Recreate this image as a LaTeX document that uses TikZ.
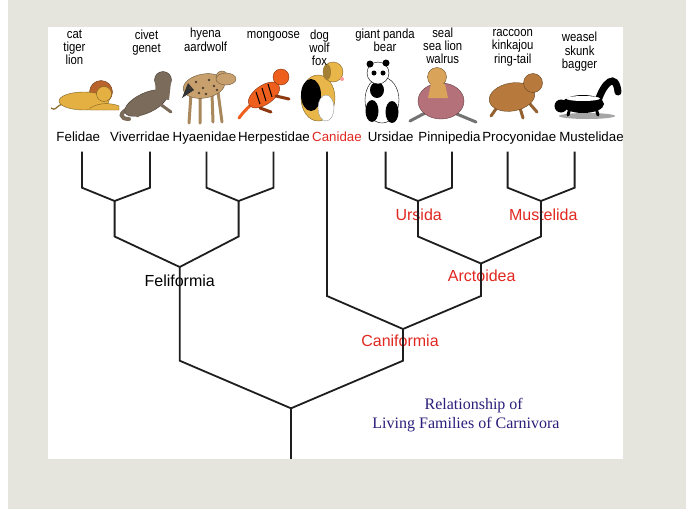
\documentclass[tikz,border=0pt]{standalone}
\usepackage{fontspec}
\setmainfont{Liberation Sans}
\newfontfamily\serifface{Liberation Serif}
\newfontfamily\namesface[FakeStretch=0.86]{Liberation Sans}
\usepackage{xcolor}
\usepackage{tikz}
\definecolor{pageGrey}{RGB}{230, 229, 221}
\definecolor{branchGrey}{RGB}{30, 30, 30}
\definecolor{cladeRed}{RGB}{224, 40, 32}
\definecolor{titleNavy}{RGB}{43, 30, 122}
\definecolor{lionGold}{RGB}{228, 176, 66}
\definecolor{lionMane}{RGB}{184, 100, 44}
\definecolor{civetBrown}{RGB}{122, 107, 91}
\definecolor{hyenaTan}{RGB}{200, 160, 110}
\definecolor{mongooseOrange}{RGB}{238, 95, 30}
\definecolor{dogYellow}{RGB}{233, 182, 73}
\definecolor{sealMauve}{RGB}{180, 113, 121}
\definecolor{sealHead}{RGB}{217, 164, 90}
\definecolor{raccoonBrown}{RGB}{184, 122, 60}
\newcommand{\beast}[6]{
  \filldraw[fill=#5, draw=#5!55!black, thin, rotate around={#6:#1}] #1 ellipse [#2];
  \filldraw[fill=#5, draw=#5!55!black, thin] #3 circle (#4);
}
\tikzset{
  branch/.style={draw=branchGrey, line width=1.8pt, line join=miter},
  family/.style={font=\fontsize{13.3}{15}\selectfont, inner sep=0pt, anchor=base},
  names/.style={font=\namesface\fontsize{13.2}{13.3}\selectfont, align=center, inner sep=0pt,
    anchor=north, execute at begin node=\vphantom{l}},
  clade/.style={font=\fontsize{16}{18}\selectfont, text=cladeRed, inner sep=0pt, anchor=base},
  title/.style={font=\serifface\fontsize{16}{18}\selectfont, text=titleNavy, inner sep=0pt, anchor=base},
  leg/.style={line width=3pt, line cap=round},
}

\begin{document}
\begin{tikzpicture}[x=1pt, y=-1pt]
  % page
  \fill[pageGrey] (0,0) rectangle (686,509);
  \fill[white] (0,0) rectangle (8,509);
  \fill[white] (48,26.7) rectangle (622.7,459);
  \useasboundingbox (0,0) rectangle (686,509);

  % animals
  \draw[lionGold!60!black, line width=1.2pt] (62,104) .. controls (54,108) and (56,111) .. (51,108);
  \filldraw[fill=lionMane, draw=lionMane!60!black, thin] (101,92) circle (11.5);
  \beast{(84,101)}{x radius=25, y radius=9}{(104,94)}{7.5}{lionGold}{0}
  \filldraw[fill=lionGold, draw=lionGold!55!black, thin] (90,108) .. controls (100,102) and (112,103) .. (119,106) -- (119,110) -- (90,110) -- cycle;

  \draw[civetBrown, line width=4pt, line cap=round] (130,108) .. controls (118,113) and (120,119) .. (129,119);
  \beast{(146,103)}{x radius=23, y radius=10}{(163,80)}{8.5}{civetBrown}{25}
  \fill[civetBrown] (156,98) -- (155,81) -- (171,82) -- (169,100) -- cycle;
  \draw[civetBrown, leg] (160,104) -- (171,112) (132,110) -- (138,116);

  \draw[hyenaTan!85!black, leg] (191,94) -- (189,123) (200,96) -- (200,123) (212,94) -- (213,122) (218,92) -- (222,122);
  \beast{(204,86)}{x radius=21, y radius=12}{(222,77)}{6}{hyenaTan}{10}
  \filldraw[fill=hyenaTan, draw=hyenaTan!55!black, thin] (226,79) ellipse [x radius=10, y radius=6];
  \fill[black!80] (182,98) -- (188,83) -- (194,90) -- cycle;
  \foreach \sx/\sy in {196/82, 203/88, 209/80, 214/86, 199/93, 190/88, 206/94, 217/90}
    \fill[hyenaTan!40!black] (\sx,\sy) circle (1.3);

  \draw[mongooseOrange, line width=3pt, line cap=round] (252,104) .. controls (245,110) and (242,114) .. (239,118);
  \beast{(264,95)}{x radius=18, y radius=9.5}{(281,77)}{8}{mongooseOrange}{35}
  \draw[black, line width=1pt] (256,92) -- (260,104) (262,88) -- (266,101) (268,84) -- (272,97);
  \draw[mongooseOrange!60!black, leg] (276,96) -- (289,99) (260,108) -- (271,112);

  \beast{(318,98)}{x radius=17, y radius=23}{(333,72)}{10}{dogYellow}{0}
  \fill[black] (311,95) ellipse [x radius=10, y radius=16];
  \filldraw[fill=white, draw=black!40, thin] (326,108) ellipse [x radius=8, y radius=13];
  \fill[dogYellow!70!black] (327,72) ellipse [x radius=4, y radius=8];
  \fill[pink!80!red] (342,79) circle (2);

  \filldraw[fill=white, draw=black, thin] (382,100) ellipse [x radius=17, y radius=23];
  \fill[black] (372,111) ellipse [x radius=6.5, y radius=11] (392,112) ellipse [x radius=6.5, y radius=11] (377,90) ellipse [x radius=7, y radius=8];
  \filldraw[fill=white, draw=black, thin] (378,73) circle (11);
  \fill[black] (370,64) circle (3.5) (386,63) circle (3.5) (374,73) circle (2.5) (383,73) circle (2.5);

  \draw[black!55, leg] (427,112) -- (410,121) (452,112) -- (476,122);
  \beast{(441,101)}{x radius=23, y radius=18}{(437,77)}{9}{sealMauve}{0}
  \filldraw[fill=sealHead, draw=sealHead!55!black, thin] (437,77) circle (9.5);
  \fill[sealHead] (431,84) -- (445,84) -- (448,98) -- (428,98) -- cycle;

  \draw[raccoonBrown!80!black, leg] (498,106) -- (491,116) (520,108) -- (523,118) (530,104) -- (537,112);
  \beast{(512,97)}{x radius=23, y radius=14}{(533,83)}{9.5}{raccoonBrown}{10}

  \fill[black!35] (587,116) ellipse [x radius=28, y radius=3];
  \draw[black, line width=7pt, line cap=round] (598,101) .. controls (604,82) and (616,72) .. (618,92);
  \fill[black] (583,104) ellipse [x radius=21, y radius=9] (561,106) circle (6.5);
  \fill[white] (583,98.5) ellipse [x radius=17, y radius=2.5];
  \draw[black, leg] (570,108) -- (568,115) (596,108) -- (598,115);

  % common names
  \node[names] (catNames) at (74.4,29.3) {cat\\tiger\\lion};
  \node[names] (civetNames) at (146.5,29.3) {civet\\genet};
  \node[names] (hyenaNames) at (205.6,28.1) {hyena\\aardwolf};
  \node[names] (mongooseNames) at (273.4,28.6) {mongoose};
  \node[names] (dogNames) at (319.5,29.3) {dog\\wolf\\fox};
  \node[names] (pandaNames) at (385,28.6) {giant panda\\bear};
  \node[names] (sealNames) at (442.7,27.6) {seal\\sea lion\\walrus};
  \node[names] (raccoonNames) at (512.7,29.3) {raccoon\\kinkajou\\ring-tail};
  \node[names] (weaselNames) at (579.6,32.1) {weasel\\skunk\\bagger};

  % families
  \node[family] (felidae) at (78.3,141) {Felidae};
  \node[family] (viverridae) at (140,141) {Viverridae};
  \node[family] (hyaenidae) at (204.5,141) {Hyaenidae};
  \node[family] (herpestidae) at (274,141) {Herpestidae};
  \node[family, text=cladeRed] (canidae) at (337,141) {Canidae};
  \node[family] (ursidae) at (390.7,141) {Ursidae};
  \node[family] (pinnipedia) at (449.5,141) {Pinnipedia};
  \node[family] (procyonidae) at (519.3,141) {Procyonidae};
  \node[family] (mustelidae) at (591.5,141) {Mustelidae};

  % clades
  \node[clade, text=black] (feliformia) at (179.7,286) {Feliformia};
  \node[clade] (ursida) at (418.7,220.7) {Ursida};
  \node[clade] (mustelida) at (543.3,220.7) {Mustelida};
  \node[clade] (arctoidea) at (481.7,281) {Arctoidea};
  \node[clade] (caniformia) at (400,346.7) {Caniformia};

  % tree
  \foreach \n/\x in {fel/82, viv/150, hya/206.5, her/273.5, can/327, urs/385.6, pin/452, pro/507.6, mus/574.6}
    \coordinate (\n) at (\x,151.7);
  \coordinate (lo) at (0,187.7);
  \coordinate (mid) at (0,236.5);
  \coordinate (low) at (0,296);
  \coordinate (base) at (0,360.7);
  \coordinate (end) at (0,459);
  \coordinate (fv) at (114.6,201);
  \coordinate (hh) at (238.6,201);
  \coordinate (up) at (418,201);
  \coordinate (pm) at (541,201);
  \coordinate (felif) at (179.7,267);
  \coordinate (arct) at (481,263.5);
  \coordinate (canif) at (403,329);
  \coordinate (root) at (291,408.3);
  \draw[branch] (fel) -- (fel |- lo) -- (fv) -- (viv |- lo) -- (viv);
  \draw[branch] (hya) -- (hya |- lo) -- (hh) -- (her |- lo) -- (her);
  \draw[branch] (urs) -- (urs |- lo) -- (up) -- (pin |- lo) -- (pin);
  \draw[branch] (pro) -- (pro |- lo) -- (pm) -- (mus |- lo) -- (mus);
  \draw[branch] (fv) -- (fv |- mid) -- (felif) -- (hh |- mid) -- (hh);
  \draw[branch] (up) -- (up |- mid) -- (arct) -- (pm |- mid) -- (pm);
  \draw[branch] (can) -- (can |- low) -- (canif) -- (arct |- low) -- (arct);
  \draw[branch] (felif) -- (felif |- base) -- (root) -- (canif |- base) -- (canif);
  \draw[branch] (root) -- (root |- end);

  % title
  \node[title] (title1) at (473.7,409) {Relationship of};
  \node[title] (title2) at (466,428.3) {Living Families of Carnivora};
\end{tikzpicture}
\end{document}
